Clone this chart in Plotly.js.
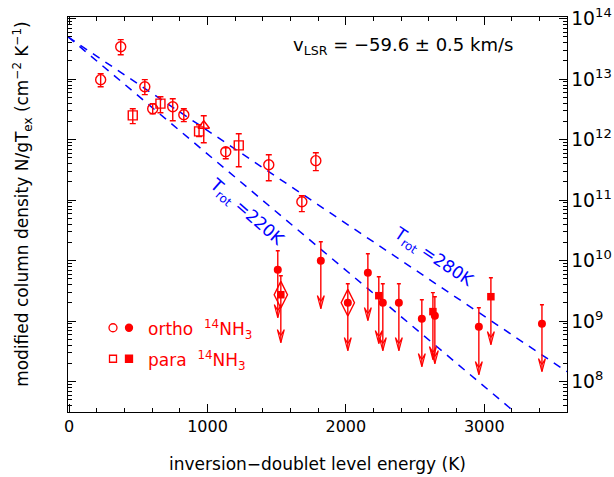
<!DOCTYPE html>
<html><head><meta charset="utf-8">
<script src="https://cdn.plot.ly/plotly-3.0.1.min.js"></script>
<style>html,body{margin:0;padding:0;background:#fff}#chart{width:614px;height:477px}</style>
</head><body><div id="chart"></div>
<script>
// ---- data ----
// ortho-NH3 detections (open circles): energy (K), N/gTex, error-bar top and bottom
const orthoE  = [228, 373, 547, 604, 749, 829, 1132, 1443, 1682, 1783];
const orthoN  = [9.82e12, 3.44e13, 7.52e12, 3.25e12, 3.51e12, 2.59e12, 6.34e11, 3.86e11, 9.44e10, 4.50e11];
const orthoHi = [1.233e13, 4.50e13, 9.82e12, 3.94e12, 4.76e12, 3.25e12, 7.38e11, 5.65e11, 1.186e11, 6.10e11];
const orthoLo = [7.52e12, 2.54e13, 5.55e12, 2.69e12, 2.06e12, 1.99e12, 4.85e11, 2.10e11, 6.46e10, 3.08e11];
// para-NH3 detections (open squares)
const paraE  = [460, 660, 939, 1226];
const paraN  = [2.52e12, 3.94e12, 1.371e12, 8.05e11];
const paraHi = [3.25e12, 5.14e12, 1.77e12, 1.256e12];
const paraLo = [1.84e12, 2.79e12, 1.122e12, 3.58e11];
// extra point (open triangle)
const triE  = [973];
const triN  = [1.70e12];
const triHi = [2.49e12];
const triLo = [8.91e11];
// ortho upper limits (filled circles)
const orthoLimE = [1508, 1819, 2014, 2159, 2267, 2383, 2549, 2643, 2961, 3417];
const orthoLimN = [7.10e9, 1.0e10, 2.02e9, 6.34e9, 2.02e9, 2.02e9, 1.10e9, 1.23e9, 8.11e8, 9.10e8];
// para upper limits (filled squares)
const paraLimE = [1530, 2238, 2629, 3048];
const paraLimN = [2.74e9, 2.64e9, 1.44e9, 2.54e9];
// highlighted points (open tall diamonds)
const diaE = [1530, 2014];
const diaN = [2.74e9, 2.02e9];
// rotation-temperature lines
const rotLabels = [220, 280];        // labelled T_rot (K)
const rotSlopeT = [226, 283];        // effective temperatures of the drawn lines
const rotN0 = 4.85e13;               // common intercept at E = 0
const limTopFactor = 2.06;           // top of the upper-limit bar relative to the value
const limTipFactor = 6.2;            // arrow tip below the value

// ---- styling ----
const RED = 'rgb(255,0,0)';
const BLUE = 'rgb(0,0,255)';
const FONT = 'DejaVu Sans, sans-serif';
const xRange = [-8, 3598];
const yRange = [7.499, 14.028];

function errs(N, hi, lo, w) {
  return {type: 'data', symmetric: false,
    array: hi.map((h, i) => h - N[i]), arrayminus: lo.map((l, i) => N[i] - l),
    color: RED, thickness: 1.4, width: w};
}

const traces = [];
// rotation lines
rotSlopeT.forEach((T) => {
  const xs = [xRange[0], xRange[1]];
  traces.push({x: xs, y: xs.map(e => rotN0 * Math.exp(-e / T)), mode: 'lines',
    line: {color: BLUE, width: 1.5, dash: '8px,7px'}, hoverinfo: 'skip', showlegend: false});
});

// upper limit shafts and arrowheads
function limitGeometry(E, N) {
  const sx = [], sy = [], hx = [], hy = [];
  const dx = 25, h = Math.pow(10, 0.215), notch = Math.pow(10, 0.215 * 0.55);
  E.forEach((e, i) => {
    const tip = N[i] / limTipFactor;
    sx.push(e, e, null); sy.push(N[i], tip, null);
    hx.push(e, e - dx, e, e + dx, e, null);
    hy.push(tip * notch, tip * h, tip, tip * h, tip * notch, null);
  });
  return [sx, sy, hx, hy];
}
[[orthoLimE, orthoLimN], [paraLimE, paraLimN]].forEach(([E, N]) => {
  const [sx, sy, hx, hy] = limitGeometry(E, N);
  traces.push({x: sx, y: sy, mode: 'lines', line: {color: RED, width: 1.4}, hoverinfo: 'skip', showlegend: false});
  traces.push({x: hx, y: hy, mode: 'lines', line: {color: RED, width: 1.2}, hoverinfo: 'skip', showlegend: false});
});

// diamonds
traces.push({x: diaE, y: diaN, mode: 'markers', showlegend: false,
  marker: {symbol: 'diamond-tall-open', size: 19, color: RED, line: {width: 1.4, color: RED}}});

// upper-limit markers with upward bars
traces.push({x: orthoLimE, y: orthoLimN, mode: 'markers', showlegend: false,
  marker: {symbol: 'circle', size: 8, color: RED},
  error_y: {type: 'data', symmetric: false, array: orthoLimN.map(v => v * (limTopFactor - 1)),
    arrayminus: orthoLimN.map(() => 0), color: RED, thickness: 1.4, width: 2}});
traces.push({x: paraLimE, y: paraLimN, mode: 'markers', showlegend: false,
  marker: {symbol: 'square', size: 7.5, color: RED},
  error_y: {type: 'data', symmetric: false, array: paraLimN.map(v => v * (limTopFactor - 1)),
    arrayminus: paraLimN.map(() => 0), color: RED, thickness: 1.4, width: 2}});

// detections
traces.push({x: orthoE, y: orthoN, mode: 'markers', showlegend: false,
  marker: {symbol: 'circle-open', size: 10, color: RED, line: {width: 1.4, color: RED}},
  error_y: errs(orthoN, orthoHi, orthoLo, 3)});
traces.push({x: paraE, y: paraN, mode: 'markers', showlegend: false,
  marker: {symbol: 'square-open', size: 9, color: RED, line: {width: 1.4, color: RED}},
  error_y: errs(paraN, paraHi, paraLo, 3)});
traces.push({x: triE, y: triN, mode: 'markers', showlegend: false,
  marker: {symbol: 'triangle-up-open', size: 10, color: RED, line: {width: 1.4, color: RED}},
  error_y: errs(triN, triHi, triLo, 3)});

const plotL = 68, plotR = 567, plotT = 17, plotB = 412.3;
const W = 614, H = 477;
const px = (x) => (x - plotL) / (plotR - plotL);
const py = (y) => (plotB - y) / (plotB - plotT);

function legendShape(type, x, y, filled, half) {
  return {type: type, xref: 'paper', yref: 'paper', xsizemode: 'pixel', ysizemode: 'pixel',
    xanchor: px(x), yanchor: py(y), x0: -half, x1: half, y0: -half, y1: half,
    line: {color: RED, width: 1.3}, fillcolor: filled ? RED : 'rgba(0,0,0,0)'};
}

const layout = {
  width: W, height: H,
  margin: {l: plotL, r: W - plotR, t: plotT, b: H - plotB, pad: 0},
  paper_bgcolor: '#fff', plot_bgcolor: '#fff',
  font: {family: FONT, size: 16, color: '#000'},
  showlegend: false,
  xaxis: {
    range: xRange, showline: true, linecolor: '#000', linewidth: 1.2, mirror: 'ticks',
    ticks: 'inside', ticklen: 8, tickwidth: 1.2, tickcolor: '#000', tick0: 0, dtick: 1000,
    minor: {dtick: 200, ticks: 'inside', ticklen: 4, tickwidth: 1, tickcolor: '#000', showgrid: false},
    showgrid: false, zeroline: false, tickfont: {size: 16, family: FONT},
    title: {text: 'inversion−doublet level energy (K)', font: {size: 17, family: FONT}, standoff: 22}
  },
  yaxis: {
    type: 'log', range: yRange, side: 'right', showline: true, linecolor: '#000', linewidth: 1.2,
    mirror: 'ticks', ticks: 'inside', ticklen: 8, tickwidth: 1.2, tickcolor: '#000', dtick: 1,
    exponentformat: 'power', showexponent: 'all',
    minor: {ticks: 'inside', ticklen: 4, tickwidth: 1, tickcolor: '#000', showgrid: false},
    showgrid: false, zeroline: false, tickfont: {size: 15, family: FONT}
  },
  annotations: [
    {xref: 'paper', yref: 'paper', x: px(23), y: py(204), textangle: -90, showarrow: false,
     xanchor: 'center', yanchor: 'middle',
     text: 'modified column density N/gT<sub>ex</sub> (cm<sup>−2</sup> K<sup>−1</sup>)',
     font: {size: 17, family: FONT, color: '#000'}},
    {xref: 'paper', yref: 'paper', x: px(403), y: py(46), showarrow: false,
     xanchor: 'center', yanchor: 'middle',
     text: 'v<sub>LSR</sub> = −59.6 ± 0.5 km/s', font: {size: 18, family: FONT, color: '#000'}},
    {xref: 'x', yref: 'y', x: 1277, y: 10.79, showarrow: false, textangle: 41,
     text: 'T<sub>rot</sub> =' + rotLabels[0] + 'K', font: {size: 17, family: FONT, color: BLUE}},
    {xref: 'x', yref: 'y', x: 2629, y: 10.05, showarrow: false, textangle: 34,
     text: 'T<sub>rot</sub> =' + rotLabels[1] + 'K', font: {size: 17, family: FONT, color: BLUE}},
    {xref: 'paper', yref: 'paper', x: px(146), y: py(330), showarrow: false,
     xanchor: 'left', yanchor: 'middle',
     text: 'ortho  <sup>14</sup>NH<sub>3</sub>', font: {size: 17, family: FONT, color: RED}},
    {xref: 'paper', yref: 'paper', x: px(146), y: py(361), showarrow: false,
     xanchor: 'left', yanchor: 'middle',
     text: 'para  <sup>14</sup>NH<sub>3</sub>', font: {size: 17, family: FONT, color: RED}}
  ],
  shapes: [
    legendShape('circle', 113, 328, false, 4),
    legendShape('circle', 129, 328, true, 3.5),
    legendShape('rect', 113, 359, false, 3.5),
    legendShape('rect', 129, 359, true, 3.5)
  ]
};

Plotly.newPlot('chart', traces, layout, {staticPlot: true, displayModeBar: false});
</script>
</body></html>
